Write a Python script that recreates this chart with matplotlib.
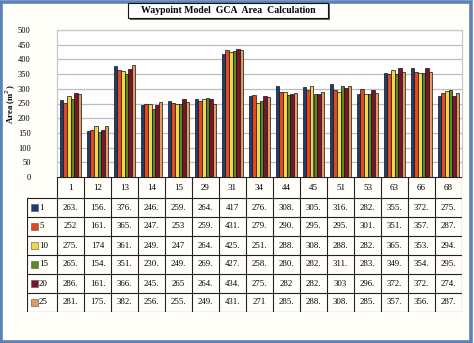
import matplotlib
matplotlib.use("Agg")
import matplotlib.pyplot as plt
from matplotlib.patches import Rectangle

categories = ["1", "12", "13", "14", "15", "29", "31", "34", "44", "45", "51", "53", "63", "66", "68"]
series_names = ["1", "5", "10", "15", "20", "25"]
row_1 = ["263.", "156.", "376.", "246.", "259.", "264.", "417", "276.", "308.", "305.", "316.", "282.", "355.", "372.", "275."]
row_5 = ["252", "161.", "365.", "247.", "253", "259.", "431.", "279.", "290.", "295.", "295.", "301.", "351.", "357.", "287."]
row_10 = ["275.", "174", "361.", "249.", "247", "264.", "425.", "251.", "288.", "308.", "288.", "282.", "365.", "353.", "294."]
row_15 = ["265.", "154.", "351.", "230.", "249.", "269.", "427.", "258.", "280.", "282.", "311.", "283.", "349.", "354.", "295."]
row_20 = ["286.", "161.", "366.", "245.", "265", "264.", "434.", "275.", "282", "282.", "303", "296.", "372.", "372.", "274."]
row_25 = ["281.", "175.", "382.", "256.", "255.", "249.", "431.", "271", "285.", "288.", "308.", "285.", "357.", "356.", "287."]
rows = [row_1, row_5, row_10, row_15, row_20, row_25]
colors = ["#1F3D73", "#E2491C", "#F3D54A", "#5A8A22", "#7A1428", "#E39A62"]
yticks = [0, 50, 100, 150, 200, 250, 300, 350, 400, 450, 500]

W, H = 474, 343
fig = plt.figure(figsize=(W / 100, H / 100), dpi=100)
fig.patch.set_facecolor("#FFFEF9")
serif = ["Liberation Serif", "DejaVu Serif"]

def fx(px):
    return px / W

def fy(py):
    return 1 - py / H

# outer frame
fig.patches.append(Rectangle((0.003, 0.004), 0.991, 0.991, transform=fig.transFigure,
                             fill=False, edgecolor="#5B82B4", lw=2.6))

# main axes
left, right, top, bottom = 57, 462, 30, 177
ax = fig.add_axes([fx(left), fy(bottom), fx(right - left), (bottom - top) / H])
ax.set_facecolor("white")
n = len(series_names)
gw = 0.8
bw = gw / n
xs = list(range(len(categories)))
for i, (row, c) in enumerate(zip(rows, colors)):
    vals = [float(s.rstrip(".")) for s in row]
    pos = [x - gw / 2 + bw * (i + 0.5) for x in xs]
    ax.bar(pos, vals, width=bw, color=c, edgecolor="#111111", linewidth=0.5, zorder=3)
ax.set_xlim(-0.5, len(categories) - 0.5)
ax.set_ylim(0, 500)
ax.set_yticks(yticks)
ax.set_yticklabels([str(t) for t in yticks], fontfamily=serif, fontsize=6)
ax.tick_params(axis="y", length=0, pad=19)
ax.set_xticks([])
ax.grid(axis="y", color="#BDBDBD", linewidth=0.9, zorder=0)
for s in ["left", "right", "top"]:
    ax.spines[s].set_color("#C8C8C8")
    ax.spines[s].set_linewidth(0.9)
ax.spines["bottom"].set_visible(False)
fig.text(fx(11), fy(104), "Area (m$^2$)", rotation=90, ha="center", va="center",
         fontfamily=serif, fontsize=6.3, fontweight="bold")

# table
tab_left, tab_bottom = 27, 312
hdr_h, row_h = 21.0 / 19.0, 1.0
lab_w = (left - tab_left) / 27.0
tab = fig.add_axes([fx(tab_left), fy(tab_bottom), fx(right - tab_left), (tab_bottom - bottom) / H])
tab.set_xlim(-0.5 - lab_w, len(categories) - 0.5)
total_h = hdr_h + row_h * n
tab.set_ylim(0, total_h)
tab.axis("off")
lc = "#222222"
lw = 0.8
x0 = -0.5
x1 = len(categories) - 0.5
xl = -0.5 - lab_w
tab.plot([x0, x1], [total_h, total_h], color=lc, lw=lw)
for k in range(n + 1):
    y = row_h * k
    tab.plot([xl, x1], [y, y], color=lc, lw=lw)
tab.plot([xl, xl], [0, row_h * n], color=lc, lw=lw)
for j in range(len(categories) + 1):
    x = -0.5 + j
    tab.plot([x, x], [0, total_h], color=lc, lw=lw)
for j, cat in enumerate(categories):
    tab.text(j, row_h * n + hdr_h / 2, cat, ha="center", va="center",
             fontfamily=serif, fontsize=6.5)
for i, (name, row, c) in enumerate(zip(series_names, rows, colors)):
    yc = row_h * (n - i - 0.5)
    tab.add_patch(Rectangle((xl + 0.14, yc - 0.2), 0.26, 0.4, facecolor=c,
                            edgecolor="#555555", lw=0.4))
    tab.text(xl + 0.45, yc, name, ha="left", va="center", fontfamily=serif, fontsize=6.5)
    for j, s in enumerate(row):
        tab.text(j, yc, s, ha="center", va="center", fontfamily=serif, fontsize=6.3)

# title
fig.patches.append(Rectangle((fx(130), fy(19.5)), fx(200), 15 / H, transform=fig.transFigure,
                             facecolor="#666666", edgecolor="none"))
fig.patches.append(Rectangle((fx(128), fy(18)), fx(200), 15 / H, transform=fig.transFigure,
                             facecolor="white", edgecolor="#111111", lw=0.8))
fig.text(fx(228), fy(10.5), "Waypoint Model  GCA  Area  Calculation", ha="center", va="center",
         fontfamily=serif, fontsize=7, fontweight="bold")

fig.savefig("out.png", dpi=100, facecolor=fig.get_facecolor())
